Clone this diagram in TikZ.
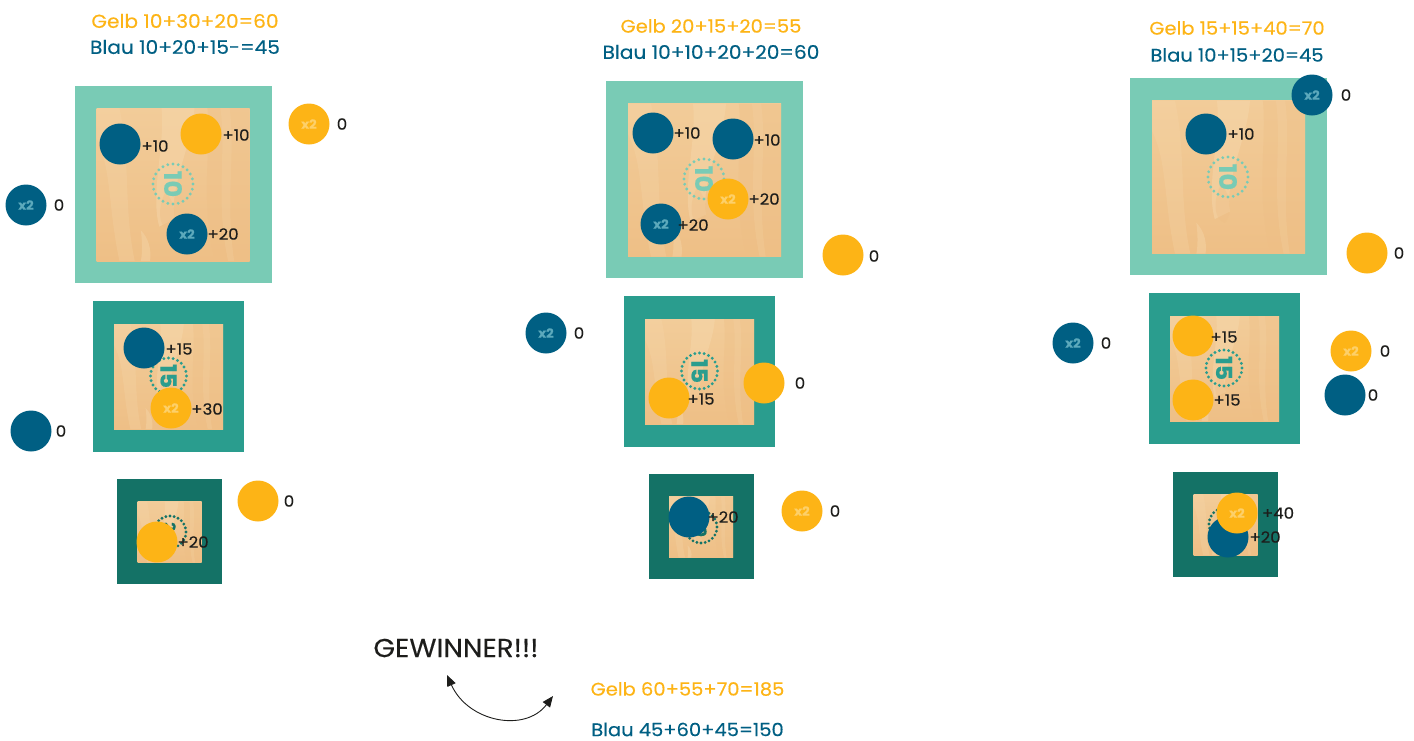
\documentclass[tikz,border=0pt]{standalone}
\usepackage{fontspec}
\setmainfont[FakeStretch=1.07,FakeBold=0.35]{Poppins}
\usetikzlibrary{arrows.meta}
\definecolor{tealA}{HTML}{79CBB5}
\definecolor{tealB}{HTML}{2A9D8E}
\definecolor{tealC}{HTML}{147266}
\definecolor{blueT}{HTML}{005F83}
\definecolor{yellowT}{HTML}{FDB416}
\definecolor{inkT}{HTML}{1D1D1B}
\definecolor{woodA}{HTML}{F2CC99}
\definecolor{woodB}{HTML}{EEBF86}
\definecolor{woodL}{HTML}{F6D9AE}
\definecolor{xblue}{HTML}{5CA9BC}
\definecolor{xyellow}{HTML}{FDD069}
\tikzset{
  token/.style={circle,minimum size=41pt,inner sep=0pt,font=\fontsize{12.5}{12.5}\selectfont\bfseries},
  bluetok/.style={token,fill=blueT,text=xblue},
  yellowtok/.style={token,fill=yellowT,text=xyellow},
  score/.style={text=inkT,inner sep=0pt,font=\fontsize{15.5}{15.5}\selectfont},
  title/.style={inner sep=0pt,font=\fontsize{18.8}{18.8}\selectfont},
  slim/.style={font=\fontsize{18.2}{18.2}\selectfont},
  gelbT/.style={title,text=yellowT},
  blauT/.style={title,text=blueT},
  dialnum/.style={inner sep=0pt,rotate=-90},
  swing/.style={line width=0.9pt,draw=inkT,{Triangle[length=11pt,width=9pt,fill=inkT]}-{Triangle[length=11pt,width=9pt,fill=inkT]}}
}
% name, centre x, centre y, outer half, inner half x, colour, inner half y
\newcommand{\boardsq}[7]{%
  \node[fill=#6,minimum size=#4*2pt,inner sep=0pt] (#1) at (#2,#3) {};
  \begin{scope}[shift={(#2,#3+0.5)},x=#5pt,y=-#7pt]
    \begin{scope}
      \clip (-1,-1) rectangle (1,1);
      \shade[top color=woodA,bottom color=woodB] (-1,-1) rectangle (1,1);
      \fill[woodL,opacity=.45] (-.15,-1) .. controls (-.1,-.5) and (-.3,.1) .. (-.18,.55) -- (.02,.45) .. controls (-.05,0) and (.25,-.5) .. (.28,-1) -- cycle;
      \fill[woodL,opacity=.25] (-1,-.6) .. controls (-.8,-.2) and (-.85,.3) .. (-.7,1) -- (-.5,1) .. controls (-.65,.3) and (-.55,-.3) .. (-.7,-1) -- (-1,-1) -- cycle;
      \fill[woodL,opacity=.4] (-.42,.6) .. controls (-.4,.75) and (-.4,.9) .. (-.42,1) -- (-.3,1) .. controls (-.28,.85) and (-.32,.7) .. (-.42,.6) -- cycle;
      \fill[woodB,opacity=.4] (.45,-1) .. controls (.5,-.4) and (.35,.2) .. (.55,1) -- (1,1) -- (1,-1) -- cycle;
      \fill[woodL,opacity=.2] (.62,-1) .. controls (.7,-.4) and (.55,.2) .. (.72,1) -- (.8,1) .. controls (.68,.2) and (.82,-.4) .. (.74,-1) -- cycle;
      \fill[woodB,opacity=.4] (-.1,.1) .. controls (-.2,.3) and (-.2,.55) .. (-.05,.6) .. controls (.05,.5) and (.05,.25) .. (-.1,.1) -- cycle;
    \end{scope}
  \end{scope}
}
% name, x, y, radius, colour, number, number size
\newcommand{\dialmark}[7]{%
  \node[text=#5,dialnum,font=\fontsize{#7}{#7}\selectfont\bfseries] (#1) at (#2,#3) {#6};
  \foreach \dotang in {0,15,...,345}
    \fill[#5] ([shift={(\dotang:#4)}]#2,#3) circle[radius=1.6];
}
\begin{document}
\begin{tikzpicture}[x=1pt,y=-1pt]
\useasboundingbox (0,0) rectangle (1414,740);
% titles
\node[gelbT] (t1g) at (185,21) {Gelb 10+30+20=60};
\node[blauT] (t1b) at (185,47) {Blau 10+20+15-=45};
\node[gelbT,slim] (t2g) at (711,26) {Gelb 20+15+20=55};
\node[blauT] (t2b) at (711,52) {Blau 10+10+20+20=60};
\node[gelbT,slim] (t3g) at (1237,28) {Gelb 15+15+40=70};
\node[blauT,slim] (t3b) at (1237,55) {Blau 10+15+20=45};
% column 1
\boardsq{b11}{173}{184}{98.5}{76.5}{tealA}{76.5}
\dialmark{d11}{173}{184}{20}{tealA}{10}{24}
\node[bluetok] (a1) at (120,144) {};
\node[yellowtok] (a2) at (201,134) {};
\node[bluetok] (a3) at (187,234) {x2};
\node[yellowtok] (a4) at (309,124) {x2};
\node[bluetok] (a5) at (26,205) {x2};
\boardsq{b12}{168.5}{376}{75.5}{54.5}{tealB}{52.5}
\dialmark{d12}{168.5}{376}{18}{tealB}{15}{22}
\node[bluetok] (a6) at (144,348) {};
\node[yellowtok] (a7) at (171,408) {x2};
\node[bluetok] (a8) at (31,431) {};
\boardsq{b13}{169.5}{531.5}{52.5}{32}{tealC}{30.5}
\dialmark{d13}{170}{532}{16}{tealC}{20}{15}
\node[yellowtok] (a9) at (157,542) {};
\node[yellowtok] (a10) at (258,501) {};
% column 2
\boardsq{b21}{704.5}{179.5}{98.5}{76.5}{tealA}{76.5}
\dialmark{d21}{704}{179}{20}{tealA}{10}{24}
\node[bluetok] (e1) at (653,133) {};
\node[bluetok] (e2) at (733,139) {};
\node[yellowtok] (e3) at (728,199) {x2};
\node[bluetok] (e4) at (661,224) {x2};
\node[yellowtok] (e5) at (843,255) {};
\node[bluetok] (e6) at (546,333) {x2};
\boardsq{b22}{699.5}{371}{75.5}{54.5}{tealB}{52.5}
\dialmark{d22}{699.5}{371}{18}{tealB}{15}{22}
\node[yellowtok] (e7) at (669,398) {};
\node[yellowtok] (e8) at (764,383) {};
\boardsq{b23}{701}{526.5}{52.5}{32}{tealC}{30.5}
\dialmark{d23}{701}{527}{16}{tealC}{20}{15}
\node[bluetok] (e9) at (689,517) {};
\node[yellowtok] (e10) at (802,511) {x2};
% column 3
\boardsq{b31}{1228.5}{176.5}{98.5}{76.5}{tealA}{76.5}
\dialmark{d31}{1228}{177}{20}{tealA}{10}{24}
\node[bluetok] (c1) at (1206,134) {};
\node[bluetok] (c2) at (1312,95) {x2};
\node[yellowtok] (c3) at (1367,253) {};
\boardsq{b32}{1224.5}{368}{75.5}{54.5}{tealB}{52.5}
\dialmark{d32}{1224}{368}{18}{tealB}{15}{22}
\node[yellowtok] (c4) at (1193,336) {};
\node[yellowtok] (c5) at (1193,400) {};
\node[yellowtok] (c6) at (1351,351) {x2};
\node[bluetok] (c7) at (1345,395) {};
\node[bluetok] (c8) at (1073,343) {x2};
\boardsq{b33}{1225.5}{524}{52.5}{32}{tealC}{30.5}
\dialmark{d33}{1225}{524}{16}{tealC}{20}{15}
\node[bluetok] (c9) at (1228,537) {};
\node[yellowtok] (c10) at (1237,513) {x2};
% scores
\node[score] (s1) at (155,146) {+10};
\node[score] (s2) at (236,135) {+10};
\node[score] (s3) at (223,234) {+20};
\node[score] (s4) at (342,124) {0};
\node[score] (s5) at (59,205) {0};
\node[score] (s6) at (179,349) {+15};
\node[score] (s7) at (207,409) {+30};
\node[score] (s8) at (61,431) {0};
\node[score] (s9) at (193,542) {+20};
\node[score] (s10) at (289,501) {0};
\node[score] (s11) at (687,133) {+10};
\node[score] (s12) at (767,140) {+10};
\node[score] (s13) at (764,199) {+20};
\node[score] (s14) at (693,225) {+20};
\node[score] (s15) at (874,256) {0};
\node[score] (s16) at (579,333) {0};
\node[score] (s17) at (701,399) {+15};
\node[score] (s18) at (800,383) {0};
\node[score] (s19) at (723,517) {+20};
\node[score] (s20) at (835,511) {0};
\node[score] (s21) at (1241,134) {+10};
\node[score] (s22) at (1346,95) {0};
\node[score] (s23) at (1399,253) {0};
\node[score] (s24) at (1224,337) {+15};
\node[score] (s25) at (1227,400) {+15};
\node[score] (s26) at (1385,351) {0};
\node[score] (s27) at (1373,395) {0};
\node[score] (s28) at (1106,343) {0};
\node[score] (s29) at (1265,537) {+20};
\node[score] (s30) at (1278,513) {+40};
% result
\node[inner sep=0pt,text=inkT,font=\fontsize{26}{26}\selectfont] (win) at (456,648) {GEWINNER!!!};
\node[gelbT,slim] (rg) at (687.5,689) {Gelb 60+55+70=185};
\node[blauT,slim] (rb) at (687.5,729.5) {Blau 45+60+45=150};
\coordinate (p1) at (447,675);
\coordinate (p2) at (553,696);
\draw[swing] (p1) .. controls (468,722) and (525,733) .. (p2);
\end{tikzpicture}
\end{document}
